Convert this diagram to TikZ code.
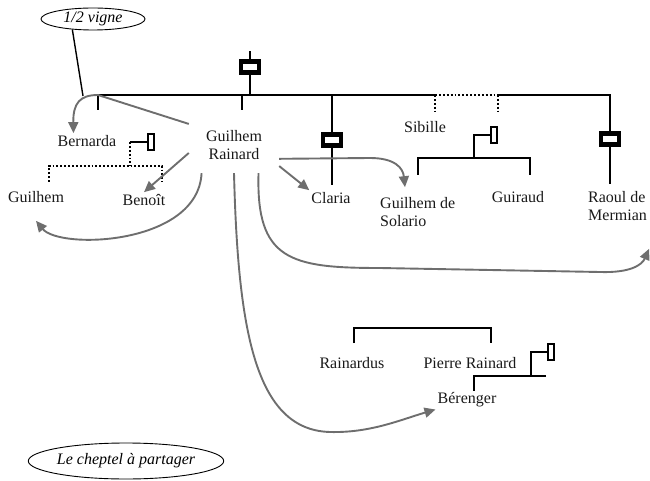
\documentclass[tikz,border=0pt]{standalone}
\usepackage{fontspec}
\setmainfont{Liberation Serif}
\usetikzlibrary{arrows.meta,shapes.geometric}
\definecolor{giftgray}{HTML}{6E6E6E}
\tikzset{
    person/.style ={
        font=\fontsize{16}{18}\selectfont,
        text=black!90,
        inner sep=2pt
    },
    good/.style ={
        shape=ellipse,
        draw=black,
        line width=0.9pt,
        font=\fontsize{16}{18}\selectfont\itshape,
        inner sep=0pt
    },
    kin/.style ={
        draw=black,
        line width=1.9pt
    },
    wed/.style ={
        shape=rectangle,
        draw=black,
        fill=white,
        line width=4.5pt,
        minimum width=18pt,
        minimum height=11pt,
        inner sep=0pt
    },
    wedsmall/.style ={
        shape=rectangle,
        draw=black,
        fill=white,
        line width=1.7pt,
        minimum width=6.5pt,
        minimum height=16pt,
        inner sep=0pt
    },
    gift/.style ={
        draw=giftgray,
        line width=1.9pt,
        -{Triangle[length=11pt,width=10pt]}
    }
}

\begin{document}
\begin{tikzpicture}[x=1pt,y=-1pt]
    \useasboundingbox (0,0) rectangle (650,481);

    % the goods
    \node[good,minimum width=104pt,minimum height=22pt] (vigne) at (93,19) {1/2 vigne};
    \node[good,minimum width=184pt,minimum height=36pt] (cheptel) at (126,461) {Le cheptel à partager};

    % the people
    \node[person] (bernarda) at (87,141) {Bernarda};
    \node[person,align=center,minimum width=90pt,minimum height=56pt] (rainard) at (234,145) {Guilhem\\Rainard};
    \node[person] (guilhem) at (36,197) {Guilhem};
    \node[person] (benoit) at (144,200) {Benoît};
    \node[person] (claria) at (331,198) {Claria};
    \node[person] (sibille) at (425,127) {Sibille};
    \node[person,anchor=west,align=left] (solario) at (378,212) {Guilhem de\\Solario};
    \node[person] (guiraud) at (518,197) {Guiraud};
    \node[person,anchor=west,align=left] (raoul) at (586,206) {Raoul de\\Mermian};
    \node[person] (rainardus) at (352,363) {Rainardus};
    \node[person] (pierre) at (470,363) {Pierre Rainard};
    \node[person] (berenger) at (467,400) {Bérenger};

    % marriages
    \node[wed] (wedTop) at (250,67) {};
    \node[wed] (wedClaria) at (332,140) {};
    \node[wed] (wedRaoul) at (610,139) {};
    \node[wedsmall] (wedBern) at (151,142) {};
    \node[wedsmall] (wedSol) at (494,135) {};
    \node[wedsmall] (wedPierre) at (551,352) {};

    % junctions
    \coordinate (barL) at (98,95);
    \coordinate (tickR) at (242,95);
    \coordinate (sibL) at (435,95);
    \coordinate (sibR) at (498,95);
    \coordinate (barR) at (610,95);
    \coordinate (vigneFoot) at (83,96);
    \coordinate (brBL) at (49,182);
    \coordinate (brBR) at (162,182);
    \coordinate (brSL) at (418,175);
    \coordinate (brSR) at (530,175);
    \coordinate (brSM) at (474,158);
    \coordinate (brRL) at (354,343);
    \coordinate (brRR) at (491,343);
    \coordinate (kidsPM) at (531,376);
    \coordinate (kidsPR) at (546,376);
    \coordinate (kidsPL) at (474,376);

    % family lines
    \draw[kin] (wedTop.north) -- ++(0,-8);
    \draw[kin] (wedTop.south) -- (wedTop |- barL);
    \draw[kin] (barL) -- ++(0,15);
    \draw[kin] (tickR) -- ++(0,15);
    \draw[kin] (barL) -- (sibL);
    \draw[kin,dotted] (sibL) -- (sibR) (sibL) -- ++(0,17) (sibR) -- ++(0,17);
    \draw[kin] (sibR) -- (barR) -- (wedRaoul.north);
    \draw[kin] (wedRaoul.south) -- ++(0,37);
    \draw[kin] (wedClaria |- barL) -- (wedClaria.north);
    \draw[kin] (wedClaria.south) -- ++(0,37);

    \draw[kin] (wedBern.west) -- ++(-17,0) coordinate (bernM);
    \draw[kin,dotted] (bernM) -- ++(0,24);
    \draw[kin,dotted] (brBL) -- ++(0,-16) -| (brBR);

    \draw[kin] (brSL) -- ++(0,-17) -| (brSR);
    \draw[kin] (wedSol.west) -| (brSM);

    \draw[kin] (brRL) -- ++(0,-15) -| (brRR);
    \draw[kin] (wedPierre.west) -| (kidsPM);
    \draw[kin] (kidsPR) -- (kidsPL) -- ++(0,15);

    \draw[kin,line width=1.4pt] (vigne.207) -- (vigneFoot);

    % what Guilhem Rainard hands out
    \draw[gift] (rainard.155) -- (barL) .. controls (80,95) and (73,103) .. (bernarda.150);
    \draw[gift] (rainard.190) -- (benoit.north);
    \draw[gift] (rainard.221) .. controls (198,245) and (60,250) .. ([yshift=-16pt]guilhem.south);
    \draw[gift] (rainard.-25) -- (claria.north west);
    \draw[gift] (rainard.-17) -- (370,158) .. controls (395,158) and (403,168) .. ([xshift=27pt,yshift=8pt]solario.north west);
    \draw[gift] (rainard.-49) .. controls (256,260) and (290,268) .. (380,268) -- (600,272) .. controls (630,273) and (642,265) .. ([yshift=-26pt]raoul.south east);
    \draw[gift] (rainard.south) .. controls (238,330) and (255,430) .. (330,432) .. controls (370,433) and (400,420) .. (berenger.south west);
\end{tikzpicture}
\end{document}
